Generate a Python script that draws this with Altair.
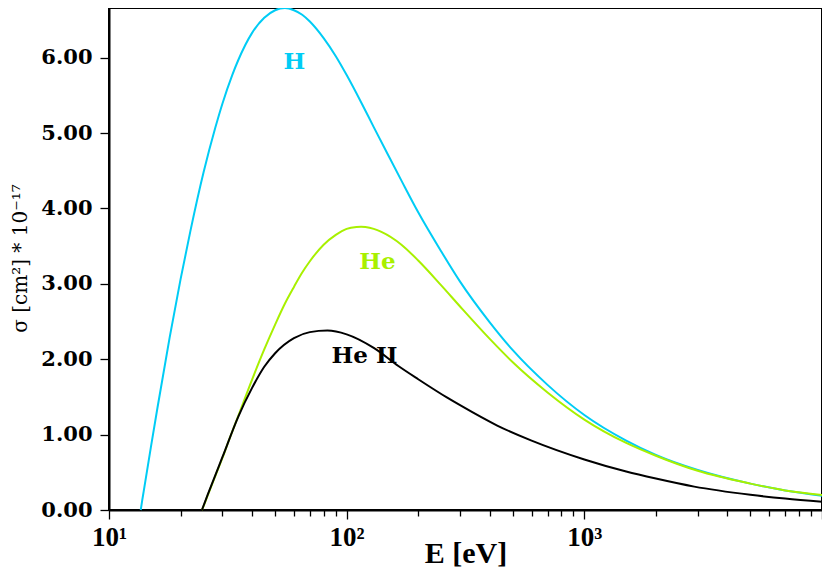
import altair as alt
import pandas as pd

# ---- data (sigma in units of 1e-17 cm^2) ----
H_E = [13.6, 13.8, 14, 15, 16, 18, 20, 22, 25, 28, 30, 33, 35, 40, 45, 50, 55, 60, 65, 70,
       80, 90, 100, 115, 130, 150, 170, 200, 250, 300, 400, 500, 700, 1000, 1500, 2000,
       3000, 5000, 7000, 10000]
H_SIG = [0.0, 0.13, 0.25, 0.83, 1.36, 2.29, 3.06, 3.70, 4.48, 5.07, 5.39, 5.77, 5.97, 6.33,
         6.53, 6.63, 6.66, 6.63, 6.57, 6.48, 6.26, 6.02, 5.77, 5.41, 5.08, 4.70, 4.37, 3.95,
         3.43, 3.03, 2.49, 2.12, 1.66, 1.26, 0.92, 0.73, 0.53, 0.35, 0.26, 0.19]

HE_E = [24.6, 25, 26, 28, 30, 32, 35, 40, 45, 50, 55, 60, 65, 70, 80, 90, 100, 110, 115,
        120, 130, 140, 170, 200, 250, 300, 400, 500, 700, 1000, 1500, 2000, 3000, 5000,
        7000, 10000]
HE_SIG = [0.0, 0.05, 0.19, 0.45, 0.69, 0.93, 1.25, 1.73, 2.13, 2.46, 2.74, 2.96, 3.15, 3.30,
          3.52, 3.65, 3.73, 3.755, 3.758, 3.754, 3.73, 3.69, 3.52, 3.31, 2.98, 2.70, 2.27,
          1.96, 1.56, 1.20, 0.89, 0.72, 0.52, 0.35, 0.26, 0.20]

HE2_E = [24.6, 26, 28, 30, 35, 40, 45, 50, 60, 70, 83, 100, 130, 165, 200, 265, 300,
         430, 600, 1000, 1500, 2000, 2900, 5000, 7000, 10000]
HE2_SIG = [0.0, 0.20, 0.46, 0.70, 1.24, 1.62, 1.90, 2.08, 2.28, 2.36, 2.38, 2.33, 2.15,
           1.91, 1.735, 1.49, 1.39, 1.12, 0.92, 0.67, 0.51, 0.417, 0.31, 0.202, 0.151, 0.109]

SERIES = ["H", "He", "He II"]
COLORS = ["#00CCF5", "#A8F000", "#000000"]

LABEL_TEXT = ["H", "He", "He II"]
LABEL_E = [60.2, 134.6, 118.9]
LABEL_SIG = [5.94, 3.29, 2.04]

X_TICKS = [10, 20, 30, 40, 50, 60, 70, 80, 90,
           100, 200, 300, 400, 500, 600, 700, 800, 900,
           1000, 2000, 3000, 4000, 5000, 6000, 7000, 8000, 9000, 10000]
Y_TICKS = [0, 0.5, 1, 1.5, 2, 2.5, 3, 3.5, 4, 4.5, 5, 5.5, 6, 6.5]

rows = []
for name, es, ss in [("H", H_E, H_SIG), ("He", HE_E, HE_SIG), ("He II", HE2_E, HE2_SIG)]:
    for e, s in zip(es, ss):
        rows.append({"series": name, "E": e, "sig": s})
df = pd.DataFrame(rows)
lab = pd.DataFrame({"series": SERIES, "label": LABEL_TEXT, "E": LABEL_E, "sig": LABEL_SIG})

xscale = alt.Scale(type="log", domain=[10, 10000], nice=False)
yscale = alt.Scale(domain=[0, 6.66], nice=False, zero=True)
cscale = alt.Scale(domain=SERIES, range=COLORS)

xaxis = alt.Axis(
    values=X_TICKS,
    labelExpr="datum.value == 10 ? '10¹' : datum.value == 100 ? '10²' : datum.value == 1000 ? '10³' : ''",
    tickSize={"condition": {"test": "datum.value == 10 || datum.value == 100 || datum.value == 1000 || datum.value == 10000", "value": 9}, "value": 6},
    labelFont="Liberation Serif", labelFontWeight="bold", labelFontSize=27,
    labelPadding=5, labelColor="black", labelFlush=False, labelOverlap=False,
    title="E [eV]", titleFont="Liberation Serif", titleFontWeight="bold", titleFontSize=30,
    titleColor="black", titleBaseline="alphabetic", titleY=52,
    grid=False, domainColor="black", domainWidth=2, tickColor="black", tickWidth=1.3,
)
yaxis = alt.Axis(
    values=Y_TICKS,
    labelExpr="datum.value % 1 ? '' : format(datum.value, '.2f')",
    tickSize={"condition": {"test": "datum.value % 1 == 0", "value": 9}, "value": 6},
    labelFont="DejaVu Serif", labelFontWeight="bold", labelFontSize=21,
    labelPadding=8, labelColor="black", labelFlush=False, labelOverlap=False,
    title="σ [cm²]  *  10⁻¹⁷", titleFont="DejaVu Serif", titleFontWeight="normal",
    titleFontSize=20, titleColor="black", titleAngle=270, titleAlign="center",
    titleBaseline="middle", titleX=-89, titleY=250,
    grid=False, domainColor="black", domainWidth=2, tickColor="black", tickWidth=1.3,
)

lines = alt.Chart(df).mark_line(strokeWidth=2, interpolate="monotone").encode(
    x=alt.X("E:Q", scale=xscale, axis=xaxis),
    y=alt.Y("sig:Q", scale=yscale, axis=yaxis),
    color=alt.Color("series:N", scale=cscale, legend=None),
    detail="series:N",
)

labels = alt.Chart(lab).mark_text(
    font="DejaVu Serif", fontWeight="bold", fontSize=23, align="center", baseline="middle"
).encode(
    x=alt.X("E:Q", scale=xscale),
    y=alt.Y("sig:Q", scale=yscale),
    text="label:N",
    color=alt.Color("series:N", scale=cscale, legend=None),
)

chart = alt.layer(lines, labels).properties(
    width=713, height=502,
    autosize=alt.AutoSizeParams(type="none"),
    padding={"left": 101, "top": 0, "right": 0, "bottom": 59},
    background="white",
).configure_view(stroke="black", strokeWidth=2)

chart.save("out.html", embed_options={"renderer": "svg", "actions": False})
